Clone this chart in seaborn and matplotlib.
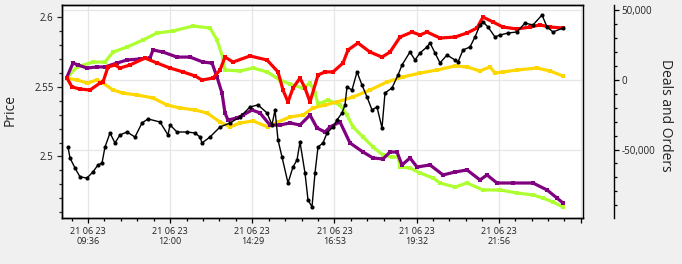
import numpy as np
import pandas as pd
import matplotlib
matplotlib.use("Agg")
import matplotlib.pyplot as plt
from matplotlib.ticker import FixedLocator, FuncFormatter, MultipleLocator
import seaborn as sns

sns.set_style("white")
plt.rcParams['font.family'] = ['Open Sans', 'DejaVu Sans']
plt.rcParams['axes.unicode_minus'] = False

# ---- data (x = bar number, Deals/Orders in thousands, Price) ----
green_x = [0.1, 2.2, 5.4, 7.8, 9.4, 12.2, 15.4, 18.2, 21.4, 25.4, 28.8, 30.2, 31.4, 31.8, 34.8, 37.4, 40.2, 42.8,
           44.8, 47.4, 48.8, 49.8, 50.4, 52.4, 54.8, 56.2, 57.4, 59.4, 61.4, 63.4, 65.2, 66.4, 66.8, 68.8, 70.8,
           73.4, 74.8, 77.8, 80.2, 83.4, 86.8, 90.2, 93.4, 95.4, 97.4, 99.4]
green_y = [1.4, 9.4, 12.9, 12.9, 20.1, 23.7, 28.8, 33.8, 35.3, 38.8, 37.4, 28.8, 15.8, 7.2, 6.5, 8.6, 5.8, 0.0,
           -2.9, -5.8, -2.2, -9.4, -17.3, -14.4, -18.0, -25.2, -33.8, -41.0, -48.2, -54.0, -55.4, -55.4, -62.6,
           -63.3, -66.9, -70.5, -74.1, -77.0, -74.1, -79.1, -79.1, -81.3, -82.7, -84.9, -87.8, -91.4]

purple_x = [0.1, 1.4, 2.4, 4.2, 6.2, 7.8, 10.2, 12.2, 14.8, 16.8, 17.4, 19.4, 22.2, 24.8, 27.4, 29.2, 30.2, 31.2,
            31.8, 32.4, 34.2, 35.4, 37.2, 38.8, 40.8, 42.8, 44.8, 46.8, 48.8, 50.2, 51.8, 52.8, 54.8, 56.8, 59.4,
            61.4, 63.4, 64.8, 66.2, 67.2, 68.8, 70.2, 72.8, 75.4, 77.8, 80.2, 82.8, 84.2, 86.2, 89.4, 93.4, 96.2,
            98.2, 99.4]
purple_y = [1.4, 12.2, 10.8, 8.6, 9.4, 9.4, 12.2, 14.4, 15.1, 15.8, 21.6, 20.1, 16.5, 16.5, 12.9, 12.2, 2.2, -9.4,
            -23.7, -28.8, -27.3, -25.2, -21.6, -23.7, -32.4, -32.4, -30.9, -32.4, -25.2, -34.5, -37.4, -33.8, -30.2,
            -45.3, -51.8, -56.1, -56.8, -51.8, -51.8, -61.1, -56.1, -62.6, -61.1, -68.3, -66.2, -64.7, -71.9, -68.3,
            -74.1, -74.1, -74.1, -79.1, -84.9, -88.5]

red_x = [0.2, 1.2, 2.8, 4.8, 6.8, 7.4, 8.4, 9.8, 10.8, 12.8, 15.8, 18.2, 20.8, 23.4, 25.8, 27.2, 29.4, 30.8, 31.8,
         33.4, 36.8, 40.2, 42.4, 43.4, 44.4, 45.4, 46.8, 47.8, 48.8, 50.4, 51.8, 53.4, 55.4, 56.4, 58.4, 60.8, 63.2,
         64.8, 66.8, 69.2, 70.8, 72.2, 74.8, 77.8, 80.2, 82.2, 83.4, 85.4, 87.4, 90.2, 92.8, 94.8, 96.8, 99.4]
red_y = [1.4, -5.0, -6.5, -7.2, -2.2, -1.4, 9.4, 10.8, 8.6, 10.8, 15.8, 12.2, 8.6, 5.8, 2.9, 0.0, 1.4, 7.2, 16.5,
         12.9, 17.3, 14.4, 5.8, -7.2, -15.8, -5.8, 1.4, -5.8, -15.8, 3.6, 5.8, 5.8, 12.2, 21.6, 26.6, 20.1, 16.5,
         20.1, 30.9, 34.5, 32.4, 34.5, 30.2, 30.9, 33.8, 37.4, 45.3, 41.7, 38.1, 36.7, 38.1, 39.6, 38.1, 37.4]

gold_x = [0.2, 2.2, 4.2, 6.2, 7.4, 9.4, 11.4, 14.2, 17.4, 20.2, 22.8, 25.8, 28.2, 30.8, 32.8, 34.8, 37.4, 40.4,
          42.4, 44.8, 47.4, 49.4, 51.8, 54.2, 57.4, 60.8, 64.2, 67.4, 70.8, 74.2, 77.8, 80.2, 82.8, 84.8, 85.8,
          87.4, 90.2, 94.2, 96.8, 99.4]
gold_y = [1.4, 0.0, -2.2, 0.0, -2.2, -7.2, -9.4, -10.8, -12.9, -18.0, -20.1, -21.6, -23.7, -30.2, -33.8, -30.9,
          -29.5, -33.8, -30.2, -26.6, -25.2, -20.1, -18.0, -15.8, -12.2, -7.2, -1.4, 2.2, 5.0, 7.2, 10.1, 9.4, 6.5,
          9.4, 5.0, 5.8, 7.2, 8.6, 6.5, 2.9]

price_x = [0.4, 0.8, 1.8, 2.8, 4.2, 5.4, 6.4, 7.2, 7.8, 8.8, 9.8, 10.8, 12.2, 13.8, 15.2, 16.4, 18.8, 20.4, 20.8,
           22.2, 24.2, 25.8, 26.8, 27.2, 28.8, 30.8, 32.8, 34.8, 36.8, 38.4, 40.2, 41.2, 41.8, 42.4, 43.2, 44.4,
           45.4, 46.2, 46.8, 47.8, 48.4, 49.2, 49.8, 50.4, 51.4, 52.2, 53.4, 54.2, 55.2, 55.8, 56.2, 57.2, 58.2,
           59.2, 60.2, 61.2, 62.2, 63.2, 63.8, 65.2, 66.4, 67.2, 68.8, 69.8, 70.8, 72.2, 72.8, 73.8, 74.8, 76.2,
           77.8, 78.4, 79.4, 80.8, 81.8, 82.8, 83.4, 84.4, 85.8, 86.8, 88.4, 90.2, 91.8, 93.4, 95.2, 96.2, 97.4, 99.4]
price_y = [2.5068, 2.4989, 2.4917, 2.4853, 2.4845, 2.4889, 2.4939, 2.4953, 2.5068, 2.5169,
           2.5097, 2.5155, 2.5176, 2.5140, 2.5241, 2.5270, 2.5248, 2.5155, 2.5227, 2.5176,
           2.5176, 2.5169, 2.5140, 2.5097, 2.5140, 2.5212, 2.5241, 2.5284, 2.5356, 2.5371,
           2.5313, 2.5227, 2.5335, 2.5119, 2.4996, 2.4809, 2.4924, 2.4975, 2.5104, 2.4881,
           2.4687, 2.4637, 2.4881, 2.5068, 2.5097, 2.5169, 2.5212, 2.5263, 2.5313, 2.5371,
           2.5500, 2.5478, 2.5608, 2.5514, 2.5428, 2.5335, 2.5356, 2.5205, 2.5457, 2.5493,
           2.5586, 2.5658, 2.5752, 2.5694, 2.5745, 2.5788, 2.5817, 2.5745, 2.5673, 2.5730,
           2.5694, 2.5680, 2.5766, 2.5788, 2.5860, 2.5946, 2.5968, 2.5932, 2.5860, 2.5874,
           2.5888, 2.5896, 2.5960, 2.5946, 2.6018, 2.5932, 2.5896, 2.5924]

tick_labels = ["21 06 23\n09:36", "21 06 23\n12:00", "21 06 23\n14:29", "21 06 23\n16:53",
               "21 06 23\n19:32", "21 06 23\n21:56", ""]

# ---- figure ----
W, H = 682, 264
fig = plt.figure(figsize=(W / 100, H / 100), dpi=100, facecolor="#F0F0F0")
ax = fig.add_axes([62 / W, 1 - 218.3 / H, (583 - 62) / W, (218.3 - 4.7) / H])
ax.set_facecolor("white")
ax2 = ax.twinx()

def k(v):
    return np.array(v) * 1000.0

series = [(green_x, green_y, "#ADFF2F"), (gold_x, gold_y, "#FFD700"),
          (purple_x, purple_y, "#800080"), (red_x, red_y, "#FF0000")]
for xs, ys, c in series:
    sns.lineplot(x=xs, y=k(ys), ax=ax, color=c, linewidth=2.3, estimator=None, sort=False,
                 marker="s", markersize=2.6, markeredgewidth=0, solid_capstyle="round")

sns.lineplot(x=price_x, y=price_y, ax=ax2, color="black", linewidth=1.0, estimator=None, sort=False,
             marker="o", markersize=3, markeredgewidth=0)

# x axis
step = 16.43
major = [4.4 + step * i for i in range(7)]
minor = [4.4 + step / 5 * j for j in range(-1, 31)]
ax.set_xlim(-0.8, 103.4)
ax.xaxis.set_major_locator(FixedLocator(major))
ax.xaxis.set_minor_locator(FixedLocator(minor))
ax.set_xticklabels(tick_labels)

# deals axis (right, offset)
ax.set_ylim(-99490, 54170)
ax.yaxis.tick_right()
ax.yaxis.set_major_locator(MultipleLocator(50000))
ax.yaxis.set_minor_locator(MultipleLocator(10000))
ax.yaxis.set_major_formatter(FuncFormatter(lambda v, p: f"{int(round(v)):,}"))
ax.spines["right"].set_position(("outward", 22))
ax.grid(True, which="major", color="#E6E6E6", linewidth=0.9)
ax.set_axisbelow(True)

# price axis (left)
ax2.set_ylim(2.4555, 2.6092)
ax2.yaxis.tick_left()
ax2.yaxis.set_major_locator(FixedLocator([2.5, 2.55, 2.6]))
ax2.yaxis.set_minor_locator(MultipleLocator(0.01))
ax2.yaxis.set_major_formatter(FuncFormatter(lambda v, p: f"{v:g}"))

for a in (ax, ax2):
    a.set_xlabel("")
    a.set_ylabel("")
    for s in a.spines.values():
        s.set_color("black")
        s.set_linewidth(1.0)

ax.tick_params(axis="both", which="major", direction="out", length=3.6, width=0.9, color="black",
               labelsize=7, labelcolor="#222222", pad=2)
ax.tick_params(axis="both", which="minor", direction="out", length=2.2, width=0.9, color="black")
ax.tick_params(axis="y", which="both", left=False, right=True)
ax.tick_params(axis="x", which="both", bottom=True, top=False)
ax.tick_params(axis="x", which="major", pad=2.5, labelsize=6.5)
ax2.tick_params(axis="y", which="major", direction="out", length=3.6, width=0.9, left=True, right=False,
                labelsize=7, labelcolor="#222222", pad=2.5)
ax2.tick_params(axis="y", which="minor", direction="out", length=2.2, width=0.9, left=True, right=False)
ax2.set_zorder(ax.get_zorder() + 1)
ax2.patch.set_visible(False)

fig.text(10 / W, 1 - 110 / H, "Price", rotation=90, ha="center", va="center", fontsize=10, color="#222222")
fig.text(665 / W, 1 - 115 / H, "Deals and Orders", rotation=270, ha="center", va="center", fontsize=10,
         color="#222222")

fig.savefig("out.png", dpi=100, facecolor=fig.get_facecolor())
